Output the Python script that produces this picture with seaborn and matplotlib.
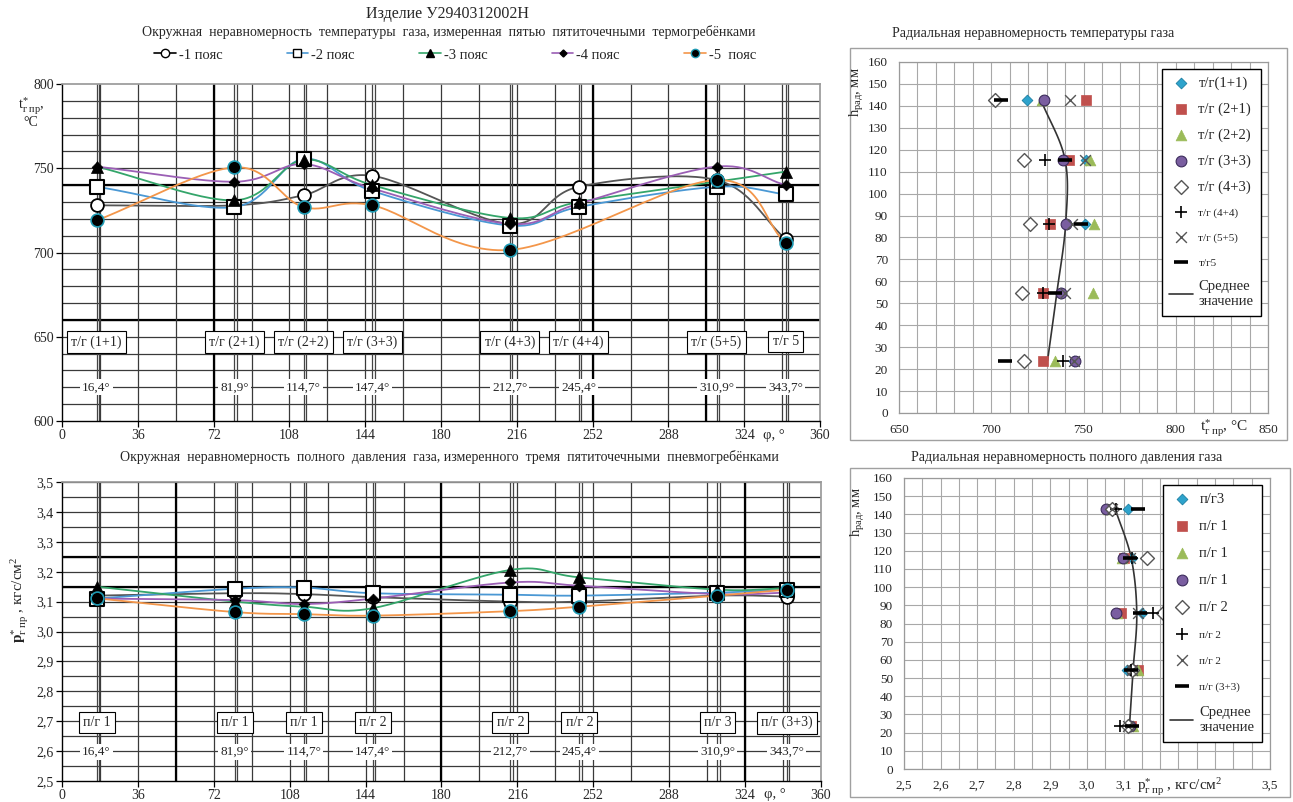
import numpy as np
import matplotlib
matplotlib.use("Agg")
import matplotlib.pyplot as plt
import seaborn as sns
from matplotlib.lines import Line2D
from matplotlib.patches import Rectangle

sns.set_theme(style="white")
plt.rcParams['font.family'] = ['Liberation Serif', 'DejaVu Serif']
plt.rcParams['mathtext.fontset'] = 'custom'
plt.rcParams['mathtext.rm'] = 'Liberation Serif'
plt.rcParams['mathtext.it'] = 'Liberation Serif:italic'
plt.rcParams['mathtext.bf'] = 'Liberation Serif:bold'

# --- data: circumferential non-uniformity ---
angles = [16.4, 81.9, 114.7, 147.4, 212.7, 245.4, 310.9, 343.7]
angle_labels = ["16,4°", "81,9°", "114,7°", "147,4°", "212,7°", "245,4°", "310,9°", "343,7°"]
belt_names = ["-1 пояс", "-2 пояс", "-3 пояс", "-4 пояс", "-5  пояс"]

temp_belt1 = [728, 728, 734, 745.5, 717, 739, 743, 708]
temp_belt2 = [739, 727, 755.5, 736.5, 716, 727, 739, 734.5]
temp_belt3 = [751, 731, 755, 740, 720.5, 730, 742, 748]
temp_belt4 = [751, 742, 752.5, 738, 717, 729, 751, 740]
temp_belt5 = [719, 750.5, 727, 728, 701.5, np.nan, 743, 705.5]
tg_probes = ["т/г (1+1)", "т/г (2+1)", "т/г (2+2)", "т/г (3+3)",
             "т/г (4+3)", "т/г (4+4)", "т/г (5+5)", "т/г 5"]

press_belt1 = [3.12, 3.128, 3.125, 3.115, 3.10, 3.10, 3.12, 3.117]
press_belt2 = [3.11, 3.143, 3.147, 3.128, 3.123, 3.12, 3.13, 3.14]
press_belt3 = [3.15, 3.10, 3.083, 3.078, 3.206, 3.181, 3.14, 3.145]
press_belt4 = [3.11, 3.105, 3.092, 3.11, 3.164, 3.153, 3.125, 3.13]
press_belt5 = [3.111, 3.065, 3.058, 3.053, 3.068, 3.083, 3.12, 3.14]
pg_probes = ["п/г 1", "п/г 1", "п/г 1", "п/г 2", "п/г 2", "п/г 2", "п/г 3", "п/г (3+3)"]

# --- data: radial non-uniformity ---
rad_heights_t = [142.5, 115.5, 86, 54.5, 23.8]
rad_t_names = ["т/г(1+1)", "т/г (2+1)", "т/г (2+2)", "т/г (3+3)", "т/г (4+3)",
               "т/г (4+4)", "т/г (5+5)", "т/г5"]
rad_t_11 = [719.4, 751.5, 751, 738, 744.8]
rad_t_21 = [751.2, 742.1, 731.7, 727.9, 728.2]
rad_t_22 = [727.7, 753.7, 755.7, 755.3, 734.7]
rad_t_33 = [728.6, 738.9, 740.3, 737.6, 745.2]
rad_t_43 = [702.2, 717.7, 721.2, 716.8, 717.6]
rad_t_44 = [np.nan, 729, 731.1, 728, 738.9]
rad_t_55 = [742.9, 751, 744, 740.2, 744.8]
rad_t_5 = [705.5, 740.2, 748.8, 734.7, 707.6]
rad_t_mean = [727, 740, 740.3, 735.5, 730.5]

rad_heights_p = [143, 115.8, 85.7, 54.5, 23.7]
rad_p_names = ["п/г3", "п/г 1", "п/г 1", "п/г 1", "п/г 2", "п/г 2", "п/г 2", "п/г (3+3)"]
rad_p_3 = [3.111, 3.122, 3.149, 3.108, 3.111]
rad_p_1a = [3.065, 3.102, 3.093, 3.138, 3.12]
rad_p_1b = [3.058, 3.095, 3.081, 3.140, 3.127]
rad_p_1c = [3.051, 3.099, 3.079, 3.124, 3.117]
rad_p_2a = [3.067, 3.163, 3.209, 3.122, 3.113]
rad_p_2b = [3.078, 3.124, 3.181, 3.12, 3.09]
rad_p_2c = [3.067, 3.117, 3.140, 3.124, 3.113]
rad_p_33 = [3.138, 3.117, 3.145, 3.12, 3.122]
rad_p_mean = [3.077, 3.121, 3.136, 3.126, 3.116]

temp_yticks = [600, 650, 700, 750, 800]
press_yticks = [2.5, 2.6, 2.7, 2.8, 2.9, 3.0, 3.1, 3.2, 3.3, 3.4, 3.5]
press_ylabels = ["2,5", "2,6", "2,7", "2,8", "2,9", "3,0", "3,1", "3,2", "3,3", "3,4", "3,5"]
phi_ticks = [0, 36, 72, 108, 144, 180, 216, 252, 288, 324, 360]
rad_t_xticks = [650, 700, 750, 800, 850]
rad_p_xticks = [2.5, 2.6, 2.7, 2.8, 2.9, 3.0, 3.1, 3.2, 3.3, 3.4, 3.5]
rad_p_xlabels = ["2,5", "2,6", "2,7", "2,8", "2,9", "3,0", "3,1", "", "", "", "3,5"]
rad_yticks = list(range(0, 161, 10))


def smooth(x, y, n=30):
    # Excel-like smoothed line (Catmull-Rom through the points)
    pts = np.column_stack([x, y]).astype(float)
    pts = pts[~np.isnan(pts).any(axis=1)]
    P = np.vstack([2 * pts[0] - pts[1], pts, 2 * pts[-1] - pts[-2]])
    t = np.linspace(0, 1, n)[:, None]
    out = []
    for i in range(1, len(P) - 2):
        p0, p1, p2, p3 = P[i - 1], P[i], P[i + 1], P[i + 2]
        seg = 0.5 * (2 * p1 + (-p0 + p2) * t + (2 * p0 - 5 * p1 + 4 * p2 - p3) * t ** 2
                     + (-p0 + 3 * p1 - 3 * p2 + p3) * t ** 3)
        out.append(seg if i == 1 else seg[1:])
    out = np.vstack(out)
    return out[:, 0], out[:, 1]


W, H = 1293, 802
fig = plt.figure(figsize=(W / 100, H / 100), dpi=100)
fig.patch.set_facecolor("white")


def px_axes(x0, y0, x1, y1):
    return fig.add_axes([x0 / W, 1 - y1 / H, (x1 - x0) / W, (y1 - y0) / H])


ax_t = px_axes(62, 84, 820, 421)
ax_p = px_axes(62, 482, 821, 781)
ax_rt = px_axes(899, 62, 1268, 413)
ax_rp = px_axes(904, 478, 1270, 769)

belt_line_colors = ["#555555", "#4a98d4", "#34a56a", "#9b5fb5", "#f3964a"]
belt_markers = [
    dict(marker="o", s=85, color="white", edgecolor="black", linewidth=1.3),
    dict(marker="s", s=95, color="white", edgecolor="black", linewidth=1.5),
    dict(marker="^", s=75, color="black", edgecolor="black", linewidth=0.5),
    dict(marker="D", s=30, color="black", edgecolor="black", linewidth=0.5),
    dict(marker="o", s=85, color="black", edgecolor="#1f9ab3", linewidth=1.2),
]


def circ_axes(ax, series, ylim, yticks, ylabels, hlines, thick_h, vthick, probes, box_y, ang_y):
    ax.set_xlim(0, 360)
    ax.set_ylim(*ylim)
    for v in hlines:
        ax.axhline(v, color="#3a3a3a", lw=0.9, zorder=0)
    for v in thick_h:
        ax.axhline(v, color="black", lw=1.6, zorder=0)
    for v in np.arange(18, 360, 18):
        ax.axvline(v, color="#3a3a3a", lw=0.9, zorder=0)
    for v in vthick:
        ax.axvline(v, color="black", lw=1.6, zorder=0)
    for a in angles:
        ax.axvline(a, color="#444444", lw=0.9, zorder=0)
        ax.axvline(a + 1.1, color="#444444", lw=0.9, zorder=0)
    for vals, lc, mk in zip(series, belt_line_colors, belt_markers):
        sx, sy = smooth(angles, vals)
        sns.lineplot(x=sx, y=sy, sort=False, estimator=None, color=lc, lw=1.3, ax=ax, zorder=3)
        sns.scatterplot(x=angles, y=vals, ax=ax, zorder=4, legend=False, **mk)
    for a, lab, alab in zip(angles, probes, angle_labels):
        ax.text(a, box_y, lab, ha="center", va="center", fontsize=10, zorder=6,
                bbox=dict(boxstyle="square,pad=0.3", fc="white", ec="black", lw=0.8))
        ax.text(a, ang_y, alab, ha="center", va="center", fontsize=9.5, zorder=6,
                bbox=dict(boxstyle="square,pad=0.15", fc="white", ec="none"))
    ax.set_yticks(yticks)
    ax.set_yticklabels(ylabels, fontsize=10)
    ax.set_xticks(phi_ticks)
    ax.set_xticklabels([str(v) for v in phi_ticks], fontsize=10)
    ax.tick_params(left=True, bottom=True, length=4, width=0.9, color="black", pad=2)
    for side in ["left", "bottom"]:
        ax.spines[side].set_color("black")
        ax.spines[side].set_linewidth(1.0)
    for side in ["top", "right"]:
        ax.spines[side].set_color("#9a9a9a")
    ax.set_xlabel("")
    ax.set_ylabel("")
    ax.text(338, -0.025, "φ, °", transform=ax.get_xaxis_transform(), ha="center",
            va="top", fontsize=10.5)


circ_axes(ax_t, [temp_belt1, temp_belt2, temp_belt3, temp_belt4, temp_belt5],
          (600, 800), temp_yticks, [str(v) for v in temp_yticks],
          np.arange(610, 800, 10), [740, 660], [72, 252, 306], tg_probes, 647, 620)
circ_axes(ax_p, [press_belt1, press_belt2, press_belt3, press_belt4, press_belt5],
          (2.5, 3.5), press_yticks, press_ylabels,
          np.arange(2.55, 3.5, 0.05), [3.25, 3.15], [54, 180, 324], pg_probes, 2.695, 2.597)

# legend for the circumferential chart
handles = []
for lc, mk in zip(belt_line_colors, belt_markers):
    handles.append(Line2D([0], [0], color=lc if lc != "#555555" else "black", lw=1.2,
                          marker=mk["marker"], markersize=np.sqrt(mk["s"]) * 0.65,
                          mfc=mk["color"], mec=mk["edgecolor"], mew=1.0))
fig.legend(handles, belt_names, loc="center", bbox_to_anchor=(455 / W, 1 - 55 / H), ncol=5,
           frameon=False, fontsize=10.5, columnspacing=4.4, handlelength=1.5,
           handletextpad=0.2)

# titles
fig.text(447 / W, 1 - 14 / H, "Изделие У2940312002Н", ha="center", va="center", fontsize=11.5)
fig.text(449 / W, 1 - 32 / H,
         "Окружная  неравномерность  температуры  газа, измеренная  пятью  пятиточечными  термогребёнками",
         ha="center", va="center", fontsize=10)
fig.text(449 / W, 1 - 457 / H,
         "Окружная  неравномерность  полного  давления  газа, измеренного  тремя  пятиточечными  пневмогребёнками",
         ha="center", va="center", fontsize=10)
fig.text(1033 / W, 1 - 33 / H, "Радиальная неравномерность температуры газа",
         ha="center", va="center", fontsize=10)
fig.text(1067 / W, 1 - 457 / H, "Радиальная неравномерность полного давления газа",
         ha="center", va="center", fontsize=10)

fig.text(31 / W, 1 - 106 / H, r"$\mathrm{t}^{*}_{\mathrm{г\ пр}}$,", ha="center", va="center",
         fontsize=10.5)
fig.text(31 / W, 1 - 122 / H, "°C", ha="center", va="center", fontsize=10)
fig.text(20 / W, 1 - 600 / H, r"$\mathbf{p}^{*}_{\mathrm{г\ пр}}$ , кгс/см$^2$",
         ha="center", va="center", fontsize=11, rotation=90)

# radial charts
rad_styles = [
    dict(marker="D", s=30, color="#2ea3cc", edgecolor="#1c7fa3", linewidth=0.6),
    dict(marker="s", s=60, color="#c0504d", edgecolor="#c0504d", linewidth=0.5),
    dict(marker="^", s=60, color="#9bbb59", edgecolor="#9bbb59", linewidth=0.5),
    dict(marker="o", s=60, color="#7a5ea0", edgecolor="#3c2c5c", linewidth=0.8),
    dict(marker="D", s=50, color="white", edgecolor="#555555", linewidth=1.0),
    dict(marker="+", s=80, color="black", linewidth=1.2),
    dict(marker="x", s=60, color="#555555", linewidth=1.0),
    dict(marker="_", s=90, color="black", linewidth=2.6),
]


def radial_axes(ax, heights, series, names, mean, xlim, xgrid, xticks, xlabels,
                small_from, leg_anchor, leg_spacing):
    ax.set_xlim(*xlim)
    ax.set_ylim(0, 160)
    for v in xgrid:
        ax.axvline(v, color="#a8a8a8", lw=0.8, zorder=0)
    for v in rad_yticks:
        ax.axhline(v, color="#a8a8a8", lw=0.8, zorder=0)
    sx, sy = smooth(mean, heights)
    for vals, name, st in zip(series, names, rad_styles):
        sns.scatterplot(x=vals, y=heights, ax=ax, label=name, zorder=4, **st)
    sns.lineplot(x=sx, y=sy, sort=False, estimator=None, color="#333333", lw=1.2, ax=ax,
                 label="Среднее\nзначение", zorder=3)
    ax.set_xticks(xticks)
    ax.set_xticklabels(xlabels, fontsize=9.5)
    ax.set_yticks(rad_yticks)
    ax.set_yticklabels([str(v) for v in rad_yticks], fontsize=9.5)
    ax.tick_params(left=False, bottom=False, pad=2)
    for side in ax.spines:
        ax.spines[side].set_color("#9a9a9a")
        ax.spines[side].set_linewidth(0.9)
    ax.set_xlabel("")
    ax.set_ylabel("")
    leg = ax.legend(loc="upper right", bbox_to_anchor=leg_anchor, fontsize=10.5,
                    frameon=True, fancybox=False, edgecolor="black", framealpha=1,
                    labelspacing=leg_spacing, handletextpad=0.4, borderpad=0.5,
                    handlelength=1.6)
    leg.get_frame().set_linewidth(1.0)
    for i, txt in enumerate(leg.get_texts()):
        if small_from <= i < len(names):
            txt.set_fontsize(8)


radial_axes(ax_rt, rad_heights_t,
            [rad_t_11, rad_t_21, rad_t_22, rad_t_33, rad_t_43, rad_t_44, rad_t_55, rad_t_5],
            rad_t_names, rad_t_mean, (650, 850), np.arange(650, 851, 10),
            rad_t_xticks, [str(v) for v in rad_t_xticks], 5, (1.0, 1.0), 0.85)
radial_axes(ax_rp, rad_heights_p,
            [rad_p_3, rad_p_1a, rad_p_1b, rad_p_1c, rad_p_2a, rad_p_2b, rad_p_2c, rad_p_33],
            rad_p_names, rad_p_mean, (2.5, 3.5), np.arange(2.5, 3.501, 0.05),
            rad_p_xticks, rad_p_xlabels, 5, (0.997, 1.0), 0.95)

fig.text(1224 / W, 1 - 428 / H, r"$\mathrm{t}^{*}_{\mathrm{г\ пр}}$, °C", ha="center",
         va="center", fontsize=11)
fig.text(1180 / W, 1 - 787 / H, r"$\mathrm{p}^{*}_{\mathrm{г\ пр}}$ , кгс/см$^2$",
         ha="center", va="center", fontsize=11)
fig.text(857 / W, 1 - 92 / H, r"$\mathrm{h}_{\mathrm{рад}}$, мм", ha="center",
         va="center", fontsize=10.5, rotation=90)
fig.text(858 / W, 1 - 512 / H, r"$\mathrm{h}_{\mathrm{рад}}$, мм", ha="center",
         va="center", fontsize=10.5, rotation=90)

# outer frames of the radial charts
fig.add_artist(Rectangle((850 / W, 1 - 440 / H), 437 / W, 392 / H, transform=fig.transFigure,
                         fill=False, ec="#a0a0a0", lw=1.0))
fig.add_artist(Rectangle((850 / W, 1 - 797 / H), 440 / W, 329 / H, transform=fig.transFigure,
                         fill=False, ec="#a0a0a0", lw=1.0))

fig.savefig("out.png", dpi=100)
